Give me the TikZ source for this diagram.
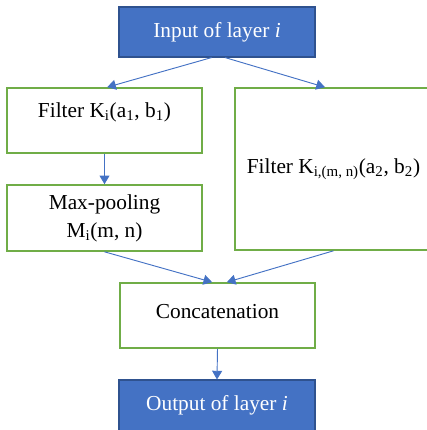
\documentclass[tikz,border=0pt]{standalone}
\usepackage{fontspec}
\setmainfont{Liberation Serif}
\usetikzlibrary{arrows.meta}

\definecolor{wordblue}{HTML}{4472C4}
\definecolor{wordblueline}{HTML}{2F528F}
\definecolor{wordgreen}{HTML}{70AD47}

\begin{document}
\begin{tikzpicture}[x=0.75pt, y=-0.75pt,
        font=\fontsize{16}{21}\selectfont,
        bluebox/.style={draw=wordblueline, line width=0.8pt, fill=wordblue, text=white,
            minimum width=147pt, minimum height=37.5pt},
        greenbox/.style={draw=wordgreen, line width=1.2pt, fill=white,
            minimum width=146.25pt, minimum height=48.75pt, align=center},
        link/.style={draw=wordblue, line width=0.7pt, -{Triangle[length=6.5pt, width=7.5pt]}}]
            \useasboundingbox (0, 0) rectangle (427, 430);
            \clip (0, 0) rectangle (427, 430);

            % input, two branches, output
            \node[bluebox] (inp) at (217, 32) {Input of layer \textit{i}};
            \node[greenbox] (filt) at (104.5, 120.5) {};
            \node (filttext) at ([yshift=-18.75pt]filt.north) {Filter K\textsubscript{i}(a\textsubscript{1}, b\textsubscript{1})};
            \node[greenbox, minimum height=49.5pt] (pool) at (104.5, 218) {Max-pooling\\M\textsubscript{i}(m, n)};
            \node[greenbox, minimum width=147.75pt, minimum height=121.5pt] (filtb) at (333.5, 169)
                {Filter K\textsubscript{i,(m, n)}(a\textsubscript{2}, b\textsubscript{2})};
            \node[greenbox, text depth=6pt] (concat) at (217.5, 315.5) {Concatenation};
            \node[bluebox, minimum height=38.25pt, text depth=4pt] (out) at (217, 405.5) {Output of layer \textit{i}};

            % connectors
            \draw[link] ([xshift=-4pt]inp.south) -- ([xshift=2pt]filt.north);
            \draw[link] ([xshift=6pt]inp.south) -- ([xshift=-6.4pt]filtb.north);
            \draw[link] (filt.south) -- (pool.north);
            \draw[link] (pool.south) -- ([xshift=-4pt]concat.north);
            \draw[link] (filtb.south) -- ([xshift=7pt]concat.north);
            \draw[link] (concat.south) -- (out.north);
        \end{tikzpicture}
\end{document}
